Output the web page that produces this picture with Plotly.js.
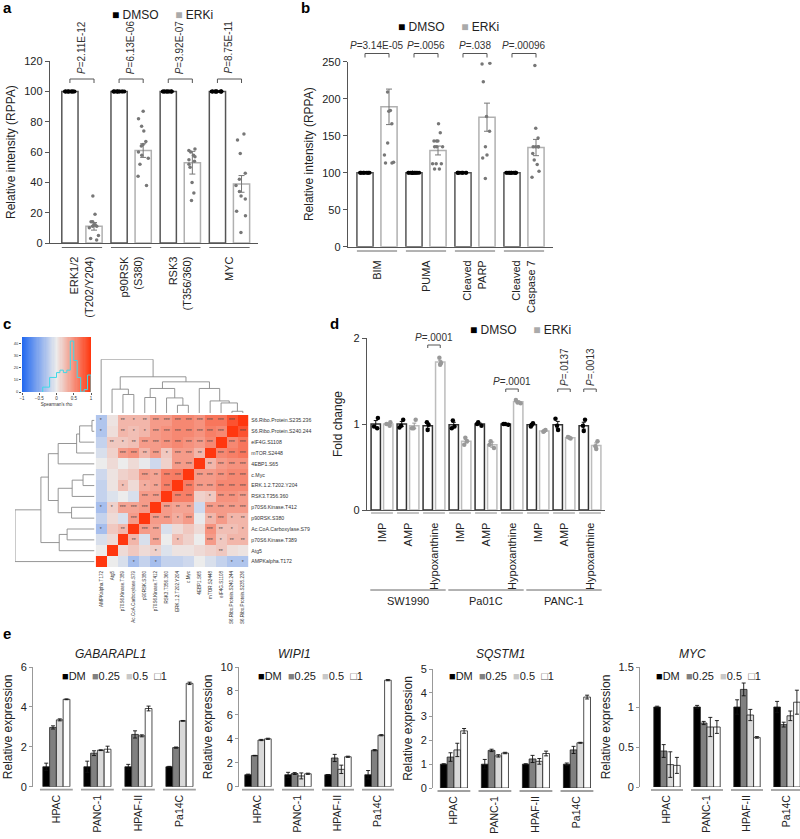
<!DOCTYPE html>
<html><head><meta charset="utf-8">
<script src="https://cdn.plot.ly/plotly-3.0.1.min.js"></script>
<style>body{margin:0;background:#fff}#chart{width:800px;height:839px}</style>
</head><body><div id="chart"></div>
<script>
// ---------------- Panel a data ----------------
const aCats = ['ERK1/2<br>(T202/Y204)', 'p90RSK<br>(S380)', 'RSK3<br>(T356/360)', 'MYC'];
const aDmsoMean = [100, 100, 100, 100];
const aErkiMean = [11, 61, 53, 39];
const aErkiSem = [2.5, 4.5, 7.5, 5.5];
const aPvals = ['2.11E-12', '6.13E-06', '3.92E-07', '8.75E-11'];
const aDmsoPts = [
  [100,100,100,100,100,100,100,100,100,100,100,100],
  [100,100,100,100,100,100,100,100,100,100,100,100],
  [100,100,100,100,100,100,100,100,100,100,100,100],
  [100,100,100,100,100,100,100,100,100,100,100,100]];
const aErkiPts = [
  [31,19,14,14,12,12,11,11,10,5,3,2],
  [87,82,77,74,67,65,64,60,58,56,52,44,38],
  [62,61,60,58,57,55,54,52,50,40,33,28],
  [72,68,59,46,42,38,34,31,29,21,18,7]];

// ---------------- Panel b data ----------------
const bCats = ['BIM', 'PUMA', 'Cleaved<br>PARP', 'Cleaved<br>Caspase 7'];
const bDmsoMean = [100, 100, 100, 100];
const bErkiMean = [189, 130, 175, 134];
const bErkiSem = [24, 6, 19, 11];
const bPvals = ['3.14E-05', '.0056', '.038', '.00096'];
const bDmsoPts = [
  [100,100,100,100,100,100,100,100,100,100],
  [100,100,100,100,100,100,100,100,100,100,100,100,100],
  [100,100,100,100,100,100,100,100,100],
  [100,100,100,100,100,100,100,100,100,100,100,100]];
const bErkiPts = [
  [209,184,183,166,140,124,114,113,113],
  [166,154,143,143,143,135,135,135,112,112,112,105,105],
  [248,247,223,176,156,135,124,120,92],
  [245,160,147,135,135,135,135,126,117,111,102,94]];

// ---------------- Panel c data ----------------
const proteins = ['AMPKalpha.T172','Atg5','p70S6.Kinase.T389','Ac.CoA.Carboxylase.S79','p90RSK.S380',
  'p70S6.Kinase.T412','RSK3.T356.360','ERK.1.2.T202.Y204','c.Myc','4EBP1.S65','mTOR.S2448',
  'eIF4G.S1108','S6.Ribo.Protein.S240.244','S6.Ribo.Protein.S235.236'];
const rho = [
  [1, 0.0, -0.1, -0.35, -0.2, -0.35, -0.2, -0.2, -0.15, 0.0, -0.1, -0.2, -0.3, -0.3],
  [0.0, 1, 0.1, 0.2, 0.1, 0.15, -0.08, 0.05, 0.05, 0.1, 0.15, 0.2, 0.08, 0.05],
  [-0.1, 0.1, 1, 0.3, -0.1, 0.4, 0.0, 0.25, 0.15, 0.0, 0.45, 0.2, 0.3, 0.3],
  [-0.35, 0.2, 0.3, 1, 0.45, 0.4, -0.1, 0.1, 0.2, 0.1, 0.5, 0.25, 0.25, 0.3],
  [-0.2, 0.1, -0.1, 0.45, 1, 0.45, 0.45, 0.35, 0.45, -0.02, 0.3, 0.45, 0.3, 0.3],
  [-0.35, 0.15, 0.4, 0.4, 0.45, 1, 0.45, 0.4, 0.4, -0.15, 0.45, 0.45, 0.45, 0.45],
  [-0.2, -0.08, 0.0, -0.1, 0.45, 0.45, 1, 0.6, 0.6, 0.15, 0.2, 0.5, 0.5, 0.45],
  [-0.2, 0.05, 0.25, 0.1, 0.35, 0.4, 0.6, 1, 0.62, 0.45, 0.45, 0.55, 0.55, 0.55],
  [-0.15, 0.05, 0.15, 0.2, 0.45, 0.4, 0.6, 0.62, 1, 0.45, 0.45, 0.5, 0.55, 0.55],
  [0.0, 0.1, 0.0, 0.1, -0.02, -0.15, 0.15, 0.45, 0.45, 1, 0.3, 0.45, 0.5, 0.5],
  [-0.1, 0.15, 0.45, 0.5, 0.3, 0.45, 0.2, 0.45, 0.45, 0.3, 1, 0.55, 0.6, 0.65],
  [-0.2, 0.2, 0.2, 0.25, 0.45, 0.45, 0.5, 0.55, 0.5, 0.45, 0.55, 1, 0.55, 0.65],
  [-0.3, 0.08, 0.3, 0.25, 0.3, 0.45, 0.5, 0.55, 0.55, 0.5, 0.6, 0.55, 1, 0.85],
  [-0.3, 0.05, 0.3, 0.3, 0.3, 0.45, 0.45, 0.55, 0.55, 0.5, 0.65, 0.65, 0.85, 1]];
const stars = [
  ['', '', '', '*', '', '*', '', '', '', '', '', '', '*', '*'],
  ['', '', '', '', '', '*', '', '', '', '', '', '**', '', ''],
  ['', '', '', '**', '', '***', '', '*', '', '', '***', '*', '**', '**'],
  ['*', '', '**', '', '***', '***', '', '', '', '', '***', '**', '*', '*'],
  ['', '', '', '***', '', '***', '***', '*', '***', '', '**', '***', '*', '**'],
  ['*', '*', '***', '***', '***', '', '***', '**', '**', '', '***', '***', '***', '***'],
  ['', '', '', '', '***', '***', '', '***', '***', '', '*', '***', '***', '***'],
  ['', '', '*', '', '*', '**', '***', '', '***', '***', '***', '***', '***', '***'],
  ['', '', '', '', '***', '**', '***', '***', '', '***', '***', '***', '***', '***'],
  ['', '', '', '', '', '', '', '***', '***', '', '**', '***', '***', '***'],
  ['', '', '***', '***', '**', '***', '*', '***', '***', '**', '', '***', '***', '***'],
  ['', '**', '*', '**', '***', '***', '***', '***', '***', '***', '***', '', '***', '***'],
  ['*', '', '**', '*', '*', '***', '***', '***', '***', '***', '***', '***', '', '***'],
  ['*', '', '**', '*', '**', '***', '***', '***', '***', '***', '***', '***', '***', '']];
// hierarchical clustering merges: [childA, childB, height]; leaves 0..13, new clusters 14..
const merges = [[12,13,1.7],[7,8,7.7],[11,14,10],[10,16,12],[4,5,15.4],[6,15,15],[2,3,18.4],
  [1,20,23.7],[18,19,24.4],[9,17,24.4],[22,23,31],[21,24,36],[0,25,53.4]];
const keyTicks = [-1, -0.5, 0, 0.5, 1];

// ---------------- Panel d data ----------------
const dCats = ['IMP','AMP','Hypoxanthine','IMP','AMP','Hypoxanthine','IMP','AMP','Hypoxanthine'];
const dLines = ['SW1990','Pa01C','PANC-1'];
const dDmsoMean = [1.00, 1.00, 0.98, 0.99, 1.00, 1.00, 0.99, 0.99, 0.98];
const dErkiMean = [1.00, 0.98, 1.72, 0.80, 0.76, 1.26, 0.92, 0.84, 0.75];
const dDmsoSem = [0.04, 0.03, 0.03, 0.03, 0.01, 0.005, 0.01, 0.04, 0.04];
const dErkiSem = [0.01, 0.03, 0.02, 0.02, 0.03, 0.01, 0.005, 0.005, 0.03];
const dDmsoPts = [[1.07,0.97,0.95],[1.05,0.98,0.96],[1.02,0.99,0.93],[1.04,0.97,0.95],[1.02,1.0,0.98],
  [1.0,1.0,0.99],[1.01,0.99,0.97],[1.06,0.98,0.93],[1.05,0.98,0.92]];
const dErkiPts = [[1.02,0.98,1.0],[1.05,0.95,0.95],[1.77,1.71,1.69],[0.84,0.80,0.76],[0.80,0.76,0.72],
  [1.28,1.25,1.24],[0.93,0.92,0.91],[0.85,0.84,0.83],[0.80,0.74,0.71]];
const dPcats = [2, 5, 7, 8];
const dPvals = ['.0001', '.0001', '.0137', '.0013'];

// ---------------- Panel e data ----------------
const eLines = ['HPAC','PANC-1','HPAF-II','Pa14C'];
const eDoses = ['DM','0.25','0.5','1'];
const eGenes = ['GABARAPL1','WIPI1','SQSTM1','MYC'];
const gabVals = [[1,1,1,1],[2.97,1.68,2.62,1.96],[3.35,1.83,2.55,3.3],[4.38,1.88,3.92,5.18]];
const gabErr  = [[0.18,0.28,0.12,0.02],[0.08,0.12,0.18,0.03],[0.05,0.02,0.05,0.02],[0.02,0.15,0.12,0.06]];
const wipVals = [[1,1,1,1],[2.6,1.1,2.4,3.05],[3.9,0.9,1.45,4.3],[4.0,1.08,2.5,8.9]];
const wipErr  = [[0.05,0.2,0.02,0.35],[0.02,0.08,0.3,0.05],[0.05,0.25,0.35,0.05],[0.05,0.05,0.05,0.05]];
const sqsVals = [[1,1,1,1],[1.3,1.58,1.22,1.6],[1.6,1.35,1.12,1.9],[2.4,1.47,1.45,3.82]];
const sqsErr  = [[0.02,0.2,0.02,0.05],[0.18,0.05,0.15,0.15],[0.28,0.05,0.12,0.02],[0.1,0.03,0.1,0.08]];
const mycVals = [[1,1,1,1],[0.45,0.8,1.22,0.78],[0.28,0.75,0.9,0.89],[0.27,0.75,0.62,1.06]];
const mycErr  = [[0.01,0.02,0.09,0.07],[0.08,0.02,0.08,0.03],[0.16,0.12,0.07,0.06],[0.1,0.08,0.01,0.15]];
const eTicks = [[0,2,4,6],[0,2,4,6,8,10],[0,1,2,3,4,5],[0,0.5,1,1.5]];

// ================= drawing =================
const W = 800, H = 839;
const X = p => p / W, Y = p => 1 - p / H;
const FONT = 'Liberation Sans, Arial, Helvetica, sans-serif';
const traces = [], shapes = [], ann = [];
const layout = {width: W, height: H, margin: {l:0, r:0, t:0, b:0}, showlegend: false,
  paper_bgcolor: '#fff', plot_bgcolor: 'rgba(0,0,0,0)', barmode: 'overlay', boxmode: 'overlay',
  font: {family: FONT, color: '#222'}, shapes, annotations: ann};

function dots(xa, ya, xs, pts, color, size, width, jitter) {
  const x = [], y = [];
  pts.forEach((arr, i) => arr.forEach(v => { x.push(xs[i]); y.push(v); }));
  return {type: 'box', xaxis: xa, yaxis: ya, x, y, boxpoints: 'all', jitter: jitter, pointpos: 0,
    width: width, fillcolor: 'rgba(0,0,0,0)', line: {width: 0, color: 'rgba(0,0,0,0)'},
    whiskerwidth: 0, marker: {color, size}, hoverinfo: 'skip', showlegend: false};
}
function axX(px0, px1, range, anchor, extra) {
  return Object.assign({domain: [X(px0), X(px1)], range, anchor, showgrid: false, zeroline: false,
    fixedrange: true}, extra || {});
}
function axY(pyTop, pyBot, range, anchor, extra) {
  return Object.assign({domain: [Y(pyBot), Y(pyTop)], range, anchor, showgrid: false, zeroline: false,
    fixedrange: true}, extra || {});
}
function label(txt, px, py) {
  ann.push({text: '<b>' + txt + '</b>', x: X(px), y: Y(py), xref: 'paper', yref: 'paper',
    xanchor: 'left', yanchor: 'middle', showarrow: false, font: {size: 15, color: '#000', family: FONT}});
}
function legendText(items, cx, py, size) {
  ann.push({text: items, x: X(cx), y: Y(py), xref: 'paper', yref: 'paper', xanchor: 'center',
    yanchor: 'middle', showarrow: false, font: {size: size, color: '#222', family: FONT}});
}
function bracket(xa, x1, x2, py, down) {
  shapes.push({type: 'path', xref: xa, yref: 'paper', line: {color: '#555', width: 1},
    path: `M${x1},${Y(py + down)} L${x1},${Y(py)} L${x2},${Y(py)} L${x2},${Y(py + down)}`});
}
function hline(xa, x1, x2, py, color, w) {
  shapes.push({type: 'line', xref: xa, yref: 'paper', x0: x1, x1: x2, y0: Y(py), y1: Y(py),
    line: {color: color, width: w}});
}

// ---------- panel a ----------
const aX = aCats.map((_, i) => i);
const OFF_D = -0.41, OFF_E = 0.08, BW = 0.33;
traces.push({type: 'bar', xaxis: 'x', yaxis: 'y', x: aX, y: aDmsoMean, width: BW, offset: OFF_D,
  marker: {color: '#fff', line: {color: '#555', width: 1.5}}, hoverinfo: 'skip'});
traces.push({type: 'bar', xaxis: 'x', yaxis: 'y', x: aX, y: aErkiMean, width: BW, offset: OFF_E,
  marker: {color: '#fff', line: {color: '#b0b0b0', width: 1.5}}, hoverinfo: 'skip',
  error_y: {type: 'data', array: aErkiSem, color: '#777', thickness: 1, width: 3}});
traces.push(dots('x', 'y', aX.map(v => v + OFF_D + BW / 2), aDmsoPts, '#000', 4, 0.3, 0.8));
traces.push(dots('x', 'y', aX.map(v => v + OFF_E + BW / 2), aErkiPts, '#777', 3.5, 0.3, 0.8));
layout.xaxis = axX(50, 258, [-0.65, 3.58], 'y', {showline: true, linecolor: '#555', linewidth: 1.2,
  ticks: '', tickvals: aX, ticktext: aCats, tickangle: -90, ticklabelstandoff: 8,
  tickfont: {size: 11, color: '#222'}});
layout.yaxis = axY(61.2, 243, [0, 120], 'x', {showline: true, linecolor: '#555', linewidth: 1.2,
  ticks: 'outside', ticklen: 4, tickcolor: '#555', tickvals: [0, 20, 40, 60, 80, 100, 120],
  tickfont: {size: 11, color: '#222'},
  title: {text: 'Relative intensity (RPPA)', font: {size: 12, color: '#222'}, standoff: 6}});
aX.forEach((g, i) => {
  hline('x', g + OFF_D, g + OFF_E + BW, 247.5, '#666', 1);
  bracket('x', g + OFF_D + BW / 2, g + OFF_E + BW / 2, 79, 4);
  ann.push({text: '<i>P</i>=' + aPvals[i], x: g, y: Y(47), xref: 'x', yref: 'paper', textangle: -90,
    xanchor: 'center', yanchor: 'middle', showarrow: false, font: {size: 10, color: '#333'}});
});
label('a', 1, 8);
legendText('<span style="color:#000">■</span> DMSO     <span style="color:#aaa">■</span> ERKi', 162, 15, 12);

// ---------- panel b ----------
const bX = bCats.map((_, i) => i);
traces.push({type: 'bar', xaxis: 'x2', yaxis: 'y2', x: bX, y: bDmsoMean, width: BW, offset: OFF_D,
  marker: {color: '#fff', line: {color: '#555', width: 1.5}}, hoverinfo: 'skip'});
traces.push({type: 'bar', xaxis: 'x2', yaxis: 'y2', x: bX, y: bErkiMean, width: BW, offset: OFF_E,
  marker: {color: '#fff', line: {color: '#b0b0b0', width: 1.5}}, hoverinfo: 'skip',
  error_y: {type: 'data', array: bErkiSem, color: '#777', thickness: 1, width: 3}});
traces.push(dots('x2', 'y2', bX.map(v => v + OFF_D + BW / 2), bDmsoPts, '#000', 4, 0.3, 0.8));
traces.push(dots('x2', 'y2', bX.map(v => v + OFF_E + BW / 2), bErkiPts, '#777', 3.5, 0.3, 0.8));
layout.xaxis2 = axX(348, 553, [-0.592, 3.592], 'y2', {showline: true, linecolor: '#555', linewidth: 1.2,
  ticks: '', tickvals: bX, ticktext: bCats, tickangle: -90, ticklabelstandoff: 8,
  tickfont: {size: 11, color: '#222'}});
layout.yaxis2 = axY(61.7, 246.7, [0, 250], 'x2', {showline: true, linecolor: '#555', linewidth: 1.2,
  ticks: 'outside', ticklen: 4, tickcolor: '#555', tickvals: [0, 50, 100, 150, 200, 250],
  tickfont: {size: 11, color: '#222'},
  title: {text: 'Relative intensity (RPPA)', font: {size: 12, color: '#222'}, standoff: 6}});
bX.forEach((g, i) => {
  hline('x2', g + OFF_D, g + OFF_E + BW, 251, '#666', 1);
  bracket('x2', g + OFF_D + BW / 2, g + OFF_E + BW / 2, 53.5, 4);
  ann.push({text: '<i>P</i>=' + bPvals[i], x: g, y: Y(46), xref: 'x2', yref: 'paper',
    xanchor: 'center', yanchor: 'middle', showarrow: false, font: {size: 10, color: '#333'}});
});
label('b', 299, 8);
legendText('<span style="color:#000">■</span> DMSO     <span style="color:#aaa">■</span> ERKi', 448, 27, 12);

// ---------- panel c ----------
const idx = proteins.map((_, i) => i);
traces.push({type: 'heatmap', xaxis: 'x3', yaxis: 'y3', x: idx, y: idx, z: rho, zmin: -1, zmax: 1,
  colorscale: [[0, 'rgb(35,105,240)'], [0.5, 'rgb(236,236,236)'], [1, 'rgb(255,55,15)']],
  showscale: false, text: stars, texttemplate: '%{text}', textfont: {size: 5, color: '#444'},
  hoverinfo: 'skip'});
layout.xaxis3 = axX(95.7, 248.3, [-0.5, 13.5], 'y3', {ticks: '', tickvals: idx, ticktext: proteins,
  tickangle: -90, tickfont: {size: 4.6, color: '#333'}, showline: false, ticklabelstandoff: 2});
layout.yaxis3 = axY(415, 567, [-0.5, 13.5], 'x3', {side: 'right', ticks: '', tickvals: idx,
  ticktext: proteins, tickfont: {size: 5.2, color: '#333'}, showline: false, ticklabelstandoff: 2});
// dendrograms
const pos = idx.slice(), hgt = idx.map(() => 0);
const dx = [], dy = [];
merges.forEach(([a, b, h]) => {
  dx.push(pos[a], pos[a], pos[b], pos[b], null);
  dy.push(hgt[a], h, h, hgt[b], null);
  pos.push((pos[a] + pos[b]) / 2); hgt.push(h);
});
traces.push({type: 'scatter', mode: 'lines', xaxis: 'x4', yaxis: 'y4', x: dx, y: dy,
  line: {color: '#8a8a8a', width: 0.9}, hoverinfo: 'skip', connectgaps: false});
traces.push({type: 'scatter', mode: 'lines', xaxis: 'x5', yaxis: 'y5', x: dy, y: dx,
  line: {color: '#8a8a8a', width: 0.9}, hoverinfo: 'skip', connectgaps: false});
const hMax = merges[merges.length - 1][2];
layout.xaxis4 = axX(95.7, 248.3, [-0.5, 13.5], 'y4', {visible: false});
layout.yaxis4 = axY(359.3, 413, [0, hMax], 'x4', {visible: false});
layout.xaxis5 = axX(15, 94.5, [hMax, 0], 'y5', {visible: false});
layout.yaxis5 = axY(415, 567, [-0.5, 13.5], 'x5', {visible: false});
// colour key with histogram
const flat = [].concat(...rho);
const bins = [], counts = [];
for (let k = 0; k < 20; k++) { bins.push(-1 + k * 0.1); counts.push(0); }
flat.forEach(v => { let k = Math.min(19, Math.floor((v + 1) / 0.1 + 1e-9)); counts[k]++; });
const hx = [], hy = [];
let first = counts.findIndex(c => c > 0);
hx.push(bins[first]); hy.push(0);
for (let k = first; k < 20; k++) { hx.push(bins[k], bins[k] + 0.1); hy.push(counts[k], counts[k]); }
hx.push(1); hy.push(0);
const cMax = Math.max(...counts) * 1.08;
const gx = [];
for (let k = 0; k <= 60; k++) gx.push(-1 + k * 2 / 60);
traces.push({type: 'heatmap', xaxis: 'x6', yaxis: 'y6', x: gx, y: [0, cMax], z: [gx, gx],
  zmin: -1, zmax: 1, showscale: false, hoverinfo: 'skip',
  colorscale: [[0, 'rgb(35,105,240)'], [0.5, 'rgb(236,236,236)'], [1, 'rgb(255,55,15)']]});
traces.push({type: 'scatter', mode: 'lines', xaxis: 'x6', yaxis: 'y6', x: hx, y: hy,
  line: {color: '#3fd8e8', width: 1}, hoverinfo: 'skip'});
layout.xaxis6 = axX(22, 91, [-1, 1], 'y6', {ticks: 'outside', ticklen: 2, tickcolor: '#555',
  tickvals: keyTicks, tickfont: {size: 4.5, color: '#333'}, showline: false,
  title: {text: "Spearman's rho", font: {size: 4.5, color: '#333'}, standoff: 2}});
layout.yaxis6 = axY(337, 392, [0, cMax], 'x6', {ticks: 'outside', ticklen: 2, tickcolor: '#555',
  tickfont: {size: 4, color: '#333'}, showline: false, dtick: 10});
label('c', 1, 324);

// ---------- panel d ----------
const dX = dCats.map((_, i) => i);
const DOFF_D = -0.42, DOFF_E = 0.06, DBW = 0.36;
traces.push({type: 'bar', xaxis: 'x7', yaxis: 'y7', x: dX, y: dDmsoMean, width: DBW, offset: DOFF_D,
  marker: {color: '#fff', line: {color: '#333', width: 1.5}}, hoverinfo: 'skip',
  error_y: {type: 'data', array: dDmsoSem, color: '#111', thickness: 1, width: 2}});
traces.push({type: 'bar', xaxis: 'x7', yaxis: 'y7', x: dX, y: dErkiMean, width: DBW, offset: DOFF_E,
  marker: {color: '#fff', line: {color: '#bdbdbd', width: 1.5}}, hoverinfo: 'skip',
  error_y: {type: 'data', array: dErkiSem, color: '#999', thickness: 1, width: 2}});
traces.push(dots('x7', 'y7', dX.map(v => v + DOFF_D + DBW / 2), dDmsoPts, '#000', 4.5, 0.3, 0.7));
traces.push(dots('x7', 'y7', dX.map(v => v + DOFF_E + DBW / 2), dErkiPts, '#999', 4.5, 0.3, 0.7));
layout.xaxis7 = axX(367, 605, [-0.577, 8.577], 'y7', {showline: true, linecolor: '#555', linewidth: 1.2,
  ticks: '', tickvals: dX, ticktext: dCats, tickangle: -90, ticklabelstandoff: 7,
  tickfont: {size: 11, color: '#222'}});
layout.yaxis7 = axY(338, 510, [0, 2], 'x7', {showline: true, linecolor: '#555', linewidth: 1.2,
  ticks: 'outside', ticklen: 4, tickcolor: '#555', tickvals: [0, 1, 2],
  tickfont: {size: 11, color: '#222'},
  title: {text: 'Fold change', font: {size: 12, color: '#222'}, standoff: 8}});
dX.forEach(g => hline('x7', g + DOFF_D, g + DOFF_E + DBW, 513, '#888', 1));
dLines.forEach((nm, j) => {
  hline('x7', 3 * j - 0.45, 3 * j + 2.45, 590, '#666', 1);
  ann.push({text: nm, x: 3 * j + 1, y: Y(601), xref: 'x7', yref: 'paper', xanchor: 'center',
    yanchor: 'middle', showarrow: false, font: {size: 11, color: '#222'}});
});
const dPy = [345, 389, 389, 389];
dPcats.forEach((c, i) => {
  bracket('x7', c + DOFF_D + DBW / 2, c + DOFF_E + DBW / 2, dPy[i], 3);
  const rot = i >= 2;
  ann.push({text: '<i>P</i>=' + dPvals[i], x: c, y: Y(rot ? 367 : dPy[i] - 8), xref: 'x7', yref: 'paper',
    textangle: rot ? -90 : 0, xanchor: 'center', yanchor: 'middle', showarrow: false,
    font: {size: 10, color: '#333'}});
});
label('d', 328, 324);
legendText('<span style="color:#000">■</span> DMSO     <span style="color:#aaa">■</span> ERKi', 520, 330, 12);

// ---------- panel e ----------
const eVals = [gabVals, wipVals, sqsVals, mycVals];
const eErrs = [gabErr, wipErr, sqsErr, mycErr];
const eColors = ['#000', '#808080', '#d9d9d9', '#fff'];
const eX = eLines.map((_, i) => i);
const eDom = [[33, 202, -0.57, 3.55], [239, 402, -0.475, 3.6], [433, 595, -0.51, 3.44], [640, 800, -0.675, 3.325]];
const eTop = [667, 667, 669, 667], eBot = [786.7, 786.7, 788, 787];
const eTitleX = [110, 294, 500, 692], eLegX = [115, 310, 502, 708];
const EBW = 0.165;
eGenes.forEach((gene, k) => {
  const xa = 'x' + (8 + k), ya = 'y' + (8 + k);
  eDoses.forEach((d, j) => {
    traces.push({type: 'bar', xaxis: xa, yaxis: ya, x: eX, y: eVals[k][j], width: EBW,
      offset: -2 * EBW + j * EBW, marker: {color: eColors[j], line: {color: '#222', width: 0.8}},
      hoverinfo: 'skip',
      error_y: {type: 'data', array: eErrs[k][j], color: '#111', thickness: 0.9, width: 2}});
  });
  const [p0, p1, r0, r1] = eDom[k];
  const top = eTicks[k][eTicks[k].length - 1];
  layout['xaxis' + (8 + k)] = axX(p0, p1, [r0, r1], ya, {showline: false, ticks: '', tickvals: eX,
    ticktext: eLines, tickangle: -90, ticklabelstandoff: 5, tickfont: {size: 10.5, color: '#222'}});
  layout['yaxis' + (8 + k)] = axY(eTop[k], eBot[k], [0, top], xa, {showline: true, linecolor: '#999',
    linewidth: 1, ticks: 'outside', ticklen: 3, tickcolor: '#999', tickvals: eTicks[k],
    tickfont: {size: 11, color: '#222'},
    title: {text: 'Relative expression', font: {size: 12, color: '#222'}, standoff: 5}});
  eX.forEach(g => hline(xa, g - 0.4, g + 0.4, eBot[k] + 3, '#a0a0a0', 1.8));
  ann.push({text: '<i>' + gene + '</i>', x: X(eTitleX[k]), y: Y(654), xref: 'paper', yref: 'paper',
    xanchor: 'center', yanchor: 'middle', showarrow: false, font: {size: 12, color: '#222'}});
  legendText('<span style="color:#000">■</span>DM  <span style="color:#808080">■</span>0.25  ' +
    '<span style="color:#c8c8c8">■</span>0.5  <span style="color:#555">□</span>1', eLegX[k], 676, 11);
});
label('e', 1, 633);

Plotly.newPlot('chart', traces, layout, {staticPlot: true});
</script></body></html>
